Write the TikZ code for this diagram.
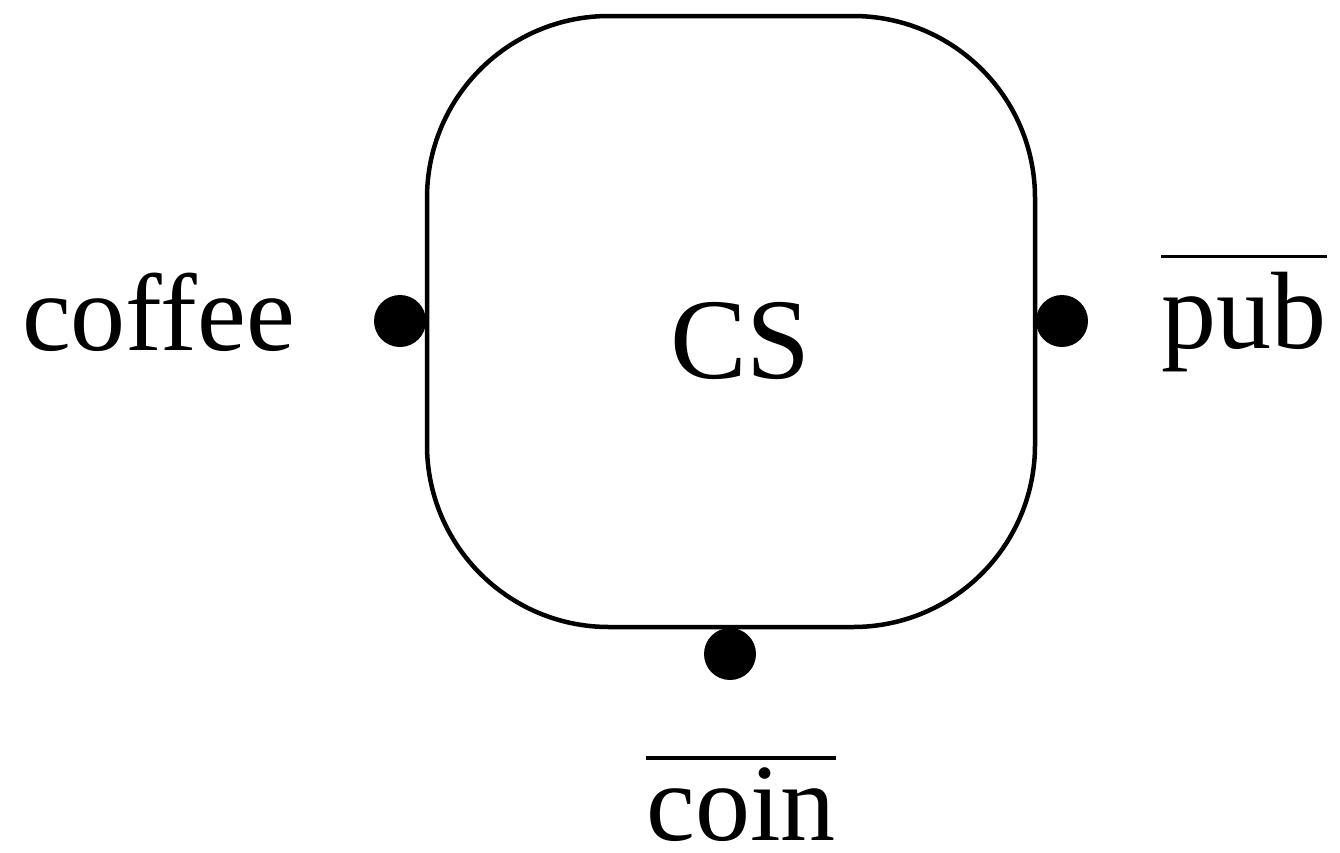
\documentclass[tikz,border=0pt]{standalone}
\usepackage{fontspec}
\setmainfont{Liberation Serif}
\begin{document}
\begin{tikzpicture}[x=1pt,y=-1pt,
  label/.style={inner sep=0pt, anchor=base, font=\fontsize{110}{130}\selectfont},
  port/.style={circle, fill=black, draw=none, inner sep=0pt, minimum size=52pt},
  box/.style={draw=black, line width=4.5pt, rounded corners=182pt},
  bar/.style={line width=3.5pt}]
\useasboundingbox (0,0) rectangle (1340,852);
\draw[box] (427,16) rectangle (1035,627);
\node[label, font=\fontsize{115}{135}\selectfont] (cs) at (740.5,378) {CS};
\node[port] (pl) at (400,321) {};
\node[port] (pr) at (1062,321) {};
\node[port] (pb) at (730,654) {};
\node[label] (coffee) at (158.5,350) {coffee};
\node[label] (pub) at (1244,348) {pub};
\node[label] (coin) at (741,840) {coin};
\draw[bar] ([yshift=15pt]pub.north west) -- ([yshift=15pt]pub.north east);
\draw[bar] ([yshift=9pt]coin.north west) -- ([yshift=9pt]coin.north east);
\end{tikzpicture}
\end{document}
